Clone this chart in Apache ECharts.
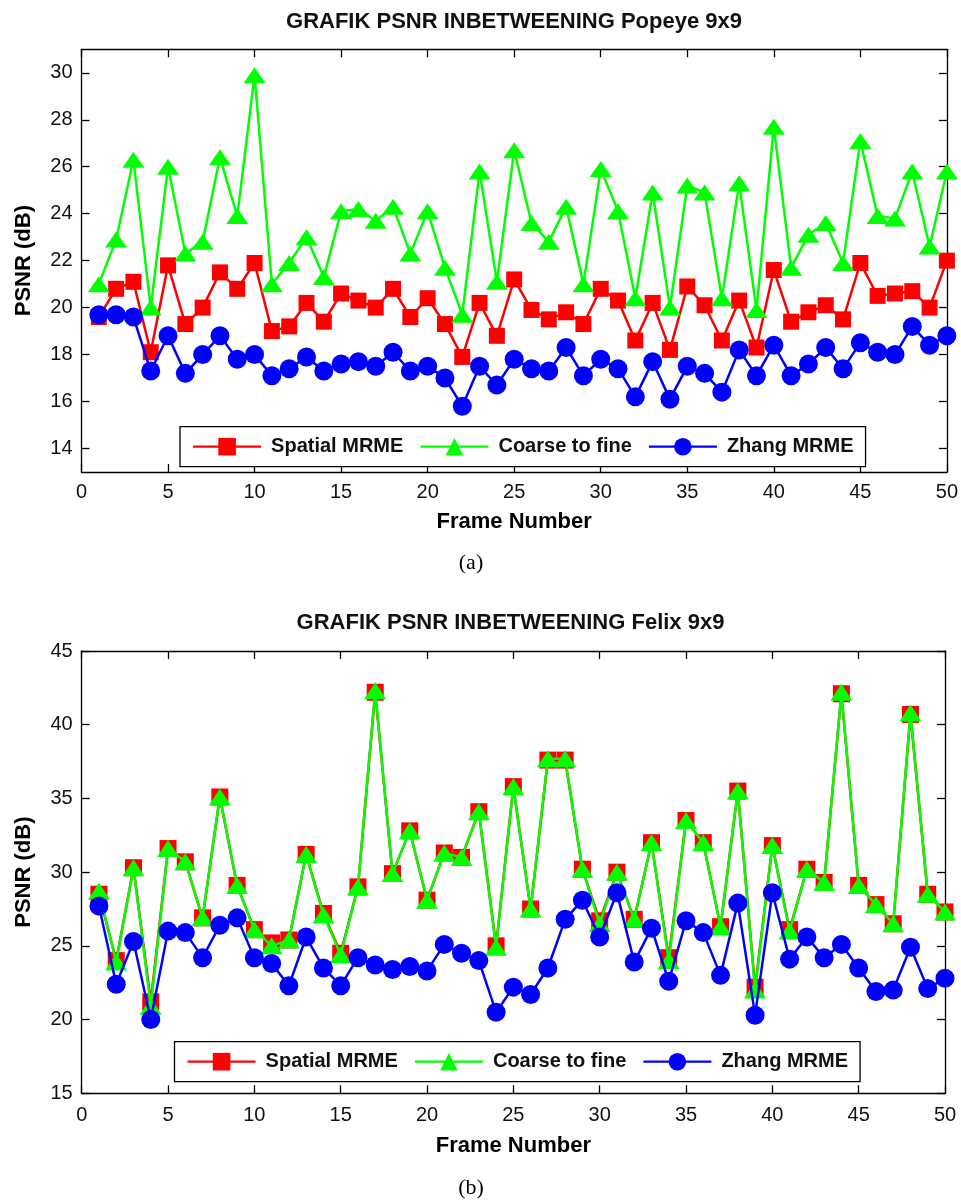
<!DOCTYPE html>
<html>
<head>
<meta charset="utf-8">
<script src="https://cdn.jsdelivr.net/npm/echarts@6/dist/echarts.min.js"></script>
<style>
html,body{margin:0;padding:0;background:#fff;}
#chart{width:961px;height:1203px;}
</style>
</head>
<body>
<div id="chart"></div>
<script>
const frames = [1,2,3,4,5,6,7,8,9,10,11,12,13,14,15,16,17,18,19,20,21,22,23,24,25,26,27,28,29,30,31,32,33,34,35,36,37,38,39,40,41,42,43,44,45,46,47,48,49,50];
const seriesNames = ['Spatial MRME', 'Coarse to fine', 'Zhang MRME'];

// (a) Popeye 9x9
const popeyeSpatial = [19.6,20.8,21.1,18.1,21.8,19.3,20.0,21.5,20.8,21.9,19.0,19.2,20.2,19.4,20.6,20.3,20.0,20.8,19.6,20.4,19.3,17.9,20.2,18.8,21.2,19.9,19.5,19.8,19.3,20.8,20.3,18.6,20.2,18.2,20.9,20.1,18.6,20.3,18.3,21.6,19.4,19.8,20.1,19.5,21.9,20.5,20.6,20.7,20.0,22.0];
const popeyeCoarse = [21.0,22.9,26.3,20.0,26.0,22.3,22.8,26.4,23.9,29.9,21.0,21.9,23.0,21.3,24.1,24.2,23.7,24.3,22.3,24.1,21.7,19.7,25.8,21.1,26.7,23.6,22.8,24.3,21.0,25.9,24.1,20.4,24.9,20.0,25.2,24.9,20.4,25.3,19.9,27.7,21.7,23.1,23.6,21.9,27.1,23.9,23.8,25.8,22.6,25.8];
const popeyeZhang = [19.7,19.7,19.6,17.3,18.8,17.2,18.0,18.8,17.8,18.0,17.1,17.4,17.9,17.3,17.6,17.7,17.5,18.1,17.3,17.5,17.0,15.8,17.5,16.7,17.8,17.4,17.3,18.3,17.1,17.8,17.4,16.2,17.7,16.1,17.5,17.2,16.4,18.2,17.1,18.4,17.1,17.6,18.3,17.4,18.5,18.1,18.0,19.2,18.4,18.8];
const popeyeYTicks = [14,16,18,20,22,24,26,28,30];

// (b) Felix 9x9
const felixSpatial = [28.5,24.0,30.3,21.2,31.6,30.7,26.9,35.1,29.1,26.1,25.2,25.4,31.2,27.2,24.5,29.0,42.2,29.9,32.8,28.1,31.3,31.0,34.1,25.0,35.8,27.5,37.6,37.6,30.2,26.7,30.0,26.8,32.0,24.2,33.5,32.0,26.3,35.5,22.2,31.8,26.1,30.2,29.3,42.1,29.1,27.8,26.5,40.7,28.5,27.3];
const felixCoarse = [28.7,23.9,30.3,20.9,31.6,30.7,26.9,35.1,29.1,26.1,25.0,25.4,31.2,27.1,24.4,29.0,42.3,29.9,32.8,28.1,31.3,31.0,34.1,24.9,35.8,27.5,37.7,37.7,30.2,26.5,30.0,26.8,32.0,24.0,33.5,32.0,26.3,35.5,22.0,31.8,26.0,30.2,29.3,42.2,29.1,27.8,26.5,40.8,28.5,27.3];
const felixZhang = [27.7,22.4,25.3,20.0,26.0,25.9,24.2,26.4,26.9,24.2,23.8,22.3,25.6,23.5,22.3,24.2,23.7,23.4,23.6,23.3,25.1,24.5,24.0,20.5,22.2,21.7,23.5,26.8,28.1,25.6,28.6,23.9,26.2,22.6,26.7,25.9,23.0,27.9,20.3,28.6,24.1,25.6,24.2,25.1,23.5,21.9,22.0,24.9,22.1,22.8];
const felixYTicks = [15,20,25,30,35,40,45];

const FONT = '"Liberation Sans", Arial, Helvetica, sans-serif';
const colors = ['#ff0000', '#00ff00', '#0000ff'];
const symbols = ['rect', 'triangle', 'circle'];

function pairs(vals) { return frames.map((f, i) => [f, vals[i]]); }

function makeSeries(vals, idx, gridIdx, symSizes) {
  return {
    name: seriesNames[idx],
    type: 'line',
    xAxisIndex: gridIdx * 2,
    yAxisIndex: gridIdx * 2,
    data: pairs(vals),
    symbol: symbols[idx],
    symbolSize: symSizes[idx],
    showSymbol: true,
    clip: false,
    color: colors[idx],
    lineStyle: { color: colors[idx], width: 2.5 },
    itemStyle: { color: colors[idx] },
    z: 2 + idx,
    animation: false
  };
}

function xAxisPair(gridIdx, labelMargin, nameGap) {
  const base = {
    gridIndex: gridIdx, type: 'value', min: 0, max: 50, interval: 5,
    axisLine: { show: true, onZero: false, lineStyle: { color: '#000', width: 1.3 } },
    axisTick: { show: true, inside: true, length: 8, lineStyle: { color: '#000', width: 1.3 } },
    splitLine: { show: false }
  };
  return [
    Object.assign({}, base, {
      position: 'bottom',
      axisLabel: { show: true, fontSize: 20, color: '#111', margin: labelMargin, fontFamily: FONT },
      name: 'Frame Number', nameLocation: 'middle', nameGap: nameGap,
      nameTextStyle: { fontSize: 22, fontWeight: 'bold', color: '#000', fontFamily: FONT }
    }),
    Object.assign({}, base, { position: 'top', axisLabel: { show: false } })
  ];
}

function yAxisPair(gridIdx, min, max, ticks) {
  const base = {
    gridIndex: gridIdx, type: 'value', min: min, max: max,
    axisLine: { show: true, onZero: false, lineStyle: { color: '#000', width: 1.3 } },
    axisTick: { show: true, inside: true, length: 8, customValues: ticks, lineStyle: { color: '#000', width: 1.3 } },
    splitLine: { show: false }
  };
  return [
    Object.assign({}, base, {
      position: 'left',
      axisLabel: { show: true, fontSize: 20, color: '#111', margin: 9, fontFamily: FONT, customValues: ticks },
      name: 'PSNR (dB)', nameLocation: 'middle', nameGap: 47,
      nameTextStyle: { fontSize: 22, fontWeight: 'bold', color: '#000', fontFamily: FONT }
    }),
    Object.assign({}, base, { position: 'right', axisLabel: { show: false } })
  ];
}

function legendAt(left, top) {
  return {
    left: left, top: top, orient: 'horizontal',
    data: seriesNames,
    itemWidth: 68, itemHeight: 22, itemGap: 16,
    padding: [10, 12, 10, 12],
    borderColor: '#000', borderWidth: 1.3, borderRadius: 0,
    backgroundColor: '#fff',
    selectedMode: false,
    lineStyle: { width: 2.2 },
    textStyle: { fontSize: 20, fontWeight: 'bold', color: '#111', fontFamily: FONT, padding: [0, 0, 0, 5] },
    z: 10
  };
}

const chart = echarts.init(document.getElementById('chart'), null, { renderer: 'canvas' });
const symA = [16, [22, 16], 19];
const symB = [17, [22, 17], 19];

chart.setOption({
  backgroundColor: '#fff',
  animation: false,
  grid: [
    { left: 81.5, top: 49.3, width: 868.5, height: 422.7 },
    { left: 81.7, top: 651, width: 863.3, height: 442.3 }
  ],
  xAxis: [].concat(xAxisPair(0, 10, 39), xAxisPair(1, 12, 42)),
  yAxis: [].concat(yAxisPair(0, 13, 31, popeyeYTicks), yAxisPair(1, 15, 45, felixYTicks)),
  legend: [legendAt(180, 426.7), legendAt(174.5, 1041.7)],
  graphic: [
    { type: 'text', x: 514, y: 22, style: { text: 'GRAFIK PSNR INBETWEENING Popeye 9x9', font: 'bold 22px ' + FONT, fill: '#111', textAlign: 'center', textVerticalAlign: 'middle' } },
    { type: 'text', x: 510.5, y: 623, style: { text: 'GRAFIK PSNR INBETWEENING Felix 9x9', font: 'bold 22px ' + FONT, fill: '#111', textAlign: 'center', textVerticalAlign: 'middle' } },
    { type: 'text', x: 471, y: 563, style: { text: '(a)', font: '22px "Liberation Serif", "Times New Roman", serif', fill: '#000', textAlign: 'center', textVerticalAlign: 'middle' } },
    { type: 'text', x: 471, y: 1188, style: { text: '(b)', font: '22px "Liberation Serif", "Times New Roman", serif', fill: '#000', textAlign: 'center', textVerticalAlign: 'middle' } }
  ],
  series: [
    makeSeries(popeyeSpatial, 0, 0, symA),
    makeSeries(popeyeCoarse, 1, 0, symA),
    makeSeries(popeyeZhang, 2, 0, symA),
    makeSeries(felixSpatial, 0, 1, symB),
    makeSeries(felixCoarse, 1, 1, symB),
    makeSeries(felixZhang, 2, 1, symB)
  ]
});
</script>
</body>
</html>
